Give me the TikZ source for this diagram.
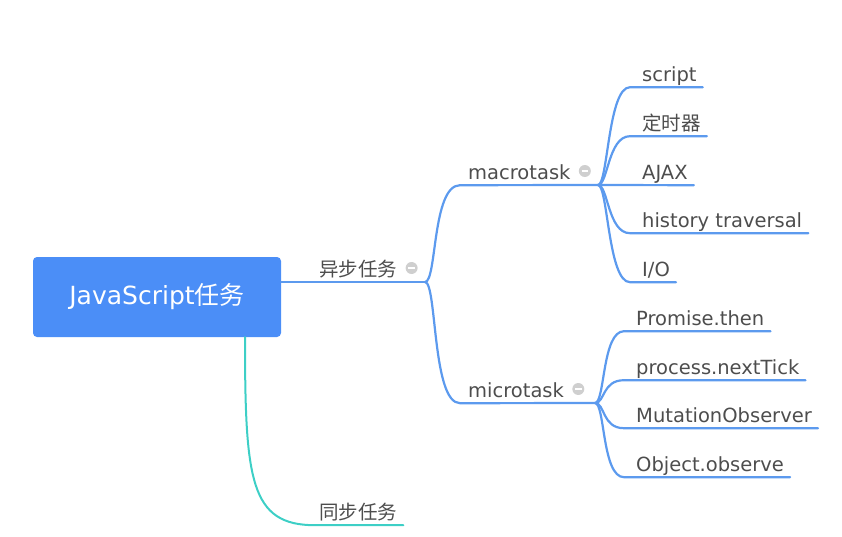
\documentclass[tikz,border=0pt]{standalone}
\usepackage{fontspec}
\setmainfont{DejaVu Sans}
\newfontfamily\cjk{Noto Sans CJK SC}
\usetikzlibrary{positioning}
\definecolor{rootblue}{HTML}{4B8EF7}
\definecolor{lineblue}{HTML}{5C9AEE}
\definecolor{synccol}{HTML}{3DCFC6}
\definecolor{textgrey}{HTML}{4D4D4D}
\definecolor{foldgrey}{HTML}{CFCFCF}
\tikzset{
  root/.style={rectangle, rounded corners=4pt, fill=rootblue, text=white,
    minimum width=248pt, minimum height=80pt,
    font=\fontsize{25}{30}\selectfont},
  topic/.style={anchor=base west, inner xsep=0pt, inner ysep=1pt,
    text height=15pt, text depth=5pt, text=textgrey,
    font=\fontsize{19.5}{23}\selectfont},
  fold/.style={circle, fill=foldgrey, minimum size=12pt, inner sep=0pt,
    path picture={\draw[white, line width=1.8pt]
      ([xshift=-3.2pt]path picture bounding box.center) --
      ([xshift=3.2pt]path picture bounding box.center);}},
  branch/.style={draw=lineblue, line width=2.2pt, line cap=round},
  syncline/.style={draw=synccol, line width=2pt, line cap=round}
}
\begin{document}
\begin{tikzpicture}[x=1pt, y=-1pt]
  \useasboundingbox (0,0) rectangle (842,536);
  % topics
  \node[root] (root) at (157,297) {JavaScript{\cjk 任务}};
  \node[topic] (async) at (319,276) {\cjk 异步任务};
  \node[topic] (sync) at (319,519) {\cjk 同步任务};
  \node[topic] (macro) at (468,179) {macrotask};
  \node[topic] (micro) at (468,397) {microtask};
  \node[fold, right=8pt of async.base east, yshift=8pt] (asyncfold) {};
  \node[fold, right=8pt of macro.base east, yshift=8pt] (macrofold) {};
  \node[fold, right=8pt of micro.base east, yshift=8pt] (microfold) {};
  % macrotask children
  \node[topic] (m1) at (642,81) {script};
  \node[topic] (m2) at (642,130) {\cjk 定时器};
  \node[topic] (m3) at (642,179) {AJAX};
  \node[topic] (m4) at (642,227) {history traversal};
  \node[topic] (m5) at (642,276) {I/O};
  % microtask children
  \node[topic] (u1) at (636,325) {Promise.then};
  \node[topic] (u2) at (636,374) {process.nextTick};
  \node[topic] (u3) at (636,422) {MutationObserver};
  \node[topic] (u4) at (636,471) {Object.observe};
  % forks
  \coordinate (af) at (425,282);
  \coordinate (mf) at (598,185);
  \coordinate (uf) at (595,403);
  % connectors
  \draw[branch] ([yshift=15pt]root.east) -- (af);
  \draw[branch] (af) .. controls +(12,0) and +(-28,0) .. ([xshift=-8pt]macro.south west) -- (mf);
  \draw[branch] (af) .. controls +(12,0) and +(-28,0) .. ([xshift=-8pt]micro.south west) -- (uf);
  \draw[branch] (mf) .. controls +(10,0) and +(-22,0) .. ([xshift=-12pt]m1.south west) -- ([xshift=6pt]m1.south east);
  \draw[branch] (mf) .. controls +(10,0) and +(-22,0) .. ([xshift=-12pt]m2.south west) -- ([xshift=6pt]m2.south east);
  \draw[branch] (mf) -- ([xshift=6pt]m3.south east);
  \draw[branch] (mf) .. controls +(10,0) and +(-22,0) .. ([xshift=-12pt]m4.south west) -- ([xshift=6pt]m4.south east);
  \draw[branch] (mf) .. controls +(10,0) and +(-22,0) .. ([xshift=-12pt]m5.south west) -- ([xshift=6pt]m5.south east);
  \draw[branch] (uf) .. controls +(10,0) and +(-22,0) .. ([xshift=-12pt]u1.south west) -- ([xshift=6pt]u1.south east);
  \draw[branch] (uf) .. controls +(10,0) and +(-22,0) .. ([xshift=-12pt]u2.south west) -- ([xshift=6pt]u2.south east);
  \draw[branch] (uf) .. controls +(10,0) and +(-22,0) .. ([xshift=-12pt]u3.south west) -- ([xshift=6pt]u3.south east);
  \draw[branch] (uf) .. controls +(10,0) and +(-22,0) .. ([xshift=-12pt]u4.south west) -- ([xshift=6pt]u4.south east);
  \draw[syncline] ([xshift=88pt]root.south) .. controls +(0,143) and +(-65,0) .. ([xshift=-4pt]sync.south west) -- ([xshift=6pt]sync.south east);
\end{tikzpicture}
\end{document}
